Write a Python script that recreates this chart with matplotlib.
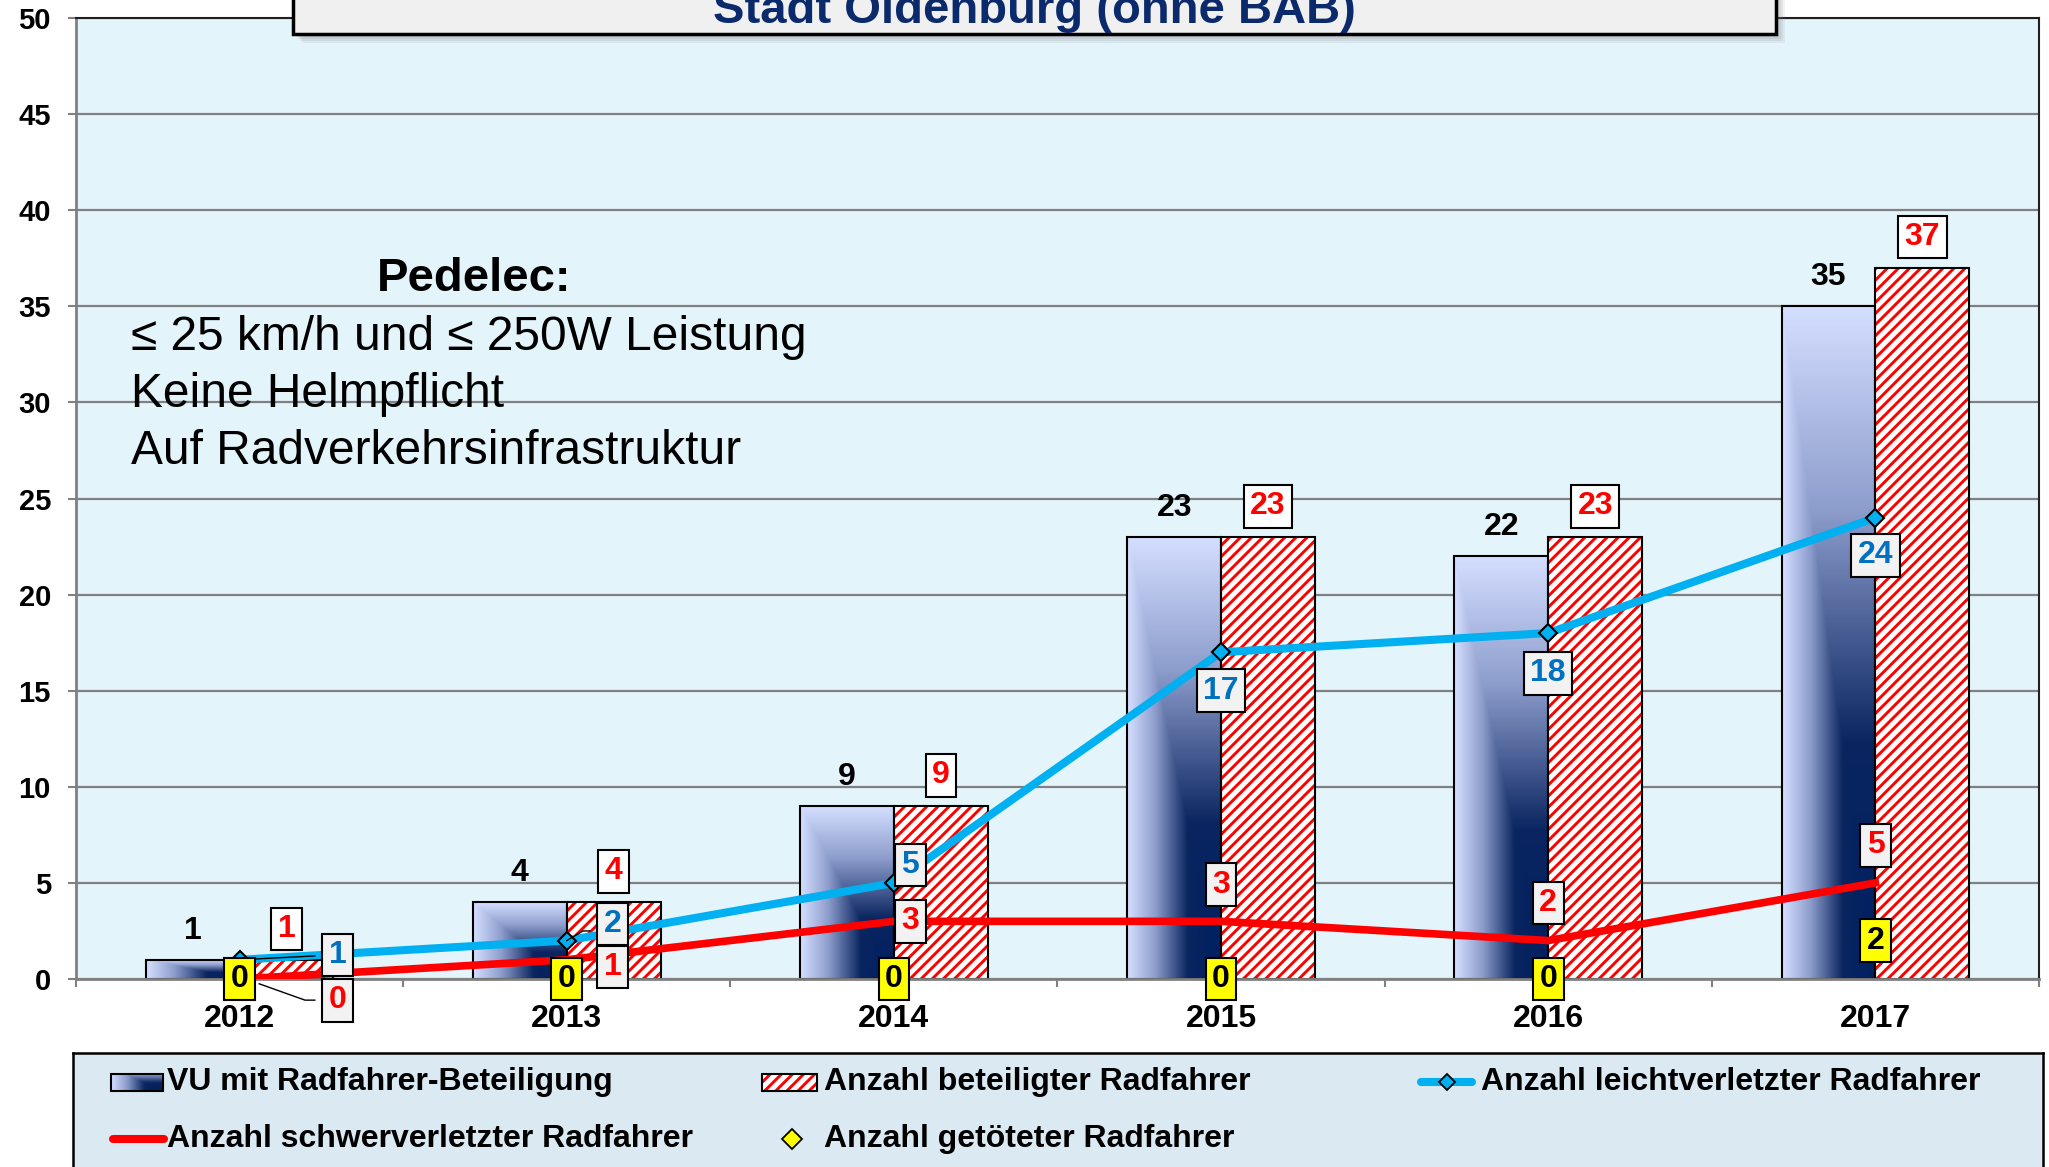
import numpy as np
import matplotlib.pyplot as plt
from matplotlib.colors import LinearSegmentedColormap
from matplotlib.patches import Rectangle

plt.rcParams['font.family'] = ['Liberation Sans', 'DejaVu Sans']
plt.rcParams['hatch.linewidth'] = 2.1

# Daten
years = ['2012', '2013', '2014', '2015', '2016', '2017']
vu_radfahrer = [1, 4, 9, 23, 22, 35]
beteiligte = [1, 4, 9, 23, 23, 37]
leichtverletzte = [1, 2, 5, 17, 18, 24]
schwerverletzte = [0, 1, 3, 3, 2, 5]
getoetete = [0, 0, 0, 0, 0, 2]

# Lage der Beschriftungen (dx, dy) relativ zum Punkt
off_leicht = [(0.30, 0.25), (0.14, 0.86), (0.05, 0.93), (0, -2.0), (0, -2.1), (0, -1.95)]
off_schwer = [(0.30, -1.1), (0.14, -0.38), (0.05, 0.0), (0, 1.9), (0, 1.95), (0, 1.95)]

W, H = 2049, 1167
fig = plt.figure(figsize=(W / 100, H / 100), dpi=100)
ax = fig.add_axes([76 / W, 1 - 979 / H, (2039 - 76) / W, (979 - 18) / H])
ax.set_facecolor('#e3f4fb')

x = np.arange(len(years))
bw = 0.287

navy = LinearSegmentedColormap.from_list(
    'navy', [(0, '#d4deff'), (0.3, '#8d9dcc'), (0.65, '#0a2560'), (1, '#002060')])

u = np.linspace(0, 1, 80)[None, :]
v = np.linspace(0, 1, 300)[:, None]
grad = np.minimum(u, v)

# Balken VU (Verlauf)
for xi, h in zip(x, vu_radfahrer):
    ax.imshow(grad, cmap=navy, extent=(xi - bw, xi, 0, h), aspect='auto',
              origin='upper', zorder=2, interpolation='bilinear')
ax.bar(x - bw / 2, vu_radfahrer, bw, fill=False, edgecolor='black', linewidth=1.5, zorder=2.1)

# Balken beteiligte Radfahrer (schraffiert)
ax.bar(x + bw / 2, beteiligte, bw, color='white', edgecolor='#ff0000', hatch='///',
       linewidth=0, zorder=2)
ax.bar(x + bw / 2, beteiligte, bw, fill=False, edgecolor='black', linewidth=1.5, zorder=2.1)

# Linien
ax.plot(x, schwerverletzte, color='#ff0000', lw=5.5, zorder=3)
ax.plot(x, leichtverletzte, color='#00b0f0', lw=5.8, marker='D', ms=9,
        mfc='#00b0f0', mec='black', mew=1.5, zorder=3.1)
ax.plot(x, getoetete, ls='none', marker='D', ms=10, mfc='#ffff00', mec='black', zorder=3.2)

# Hinweislinien
ax.plot([0, 0.23], [1.0, 1.2], color='black', lw=1, zorder=4)
ax.plot([0.06, 0.2, 0.23], [-0.25, -1.1, -1.1], color='black', lw=1, zorder=4, clip_on=False)
ax.plot([1, 1.05, 1.07], [2, 2.5, 2.5], color='black', lw=1, zorder=4)
ax.plot([1.05, 1.07], [0.0, 0.0], color='black', lw=1, zorder=4)


def label(xp, yp, s, color, face=None):
    bbox = None
    if face is not None:
        bbox = dict(boxstyle='square,pad=0.2', fc=face, ec='black', lw=1.5)
    ax.text(xp, yp, s, color=color, ha='center', va='center', fontsize=23,
            fontweight='bold', bbox=bbox, zorder=6, clip_on=False)


for i in range(len(years)):
    label(x[i] - bw / 2, vu_radfahrer[i] + 1.5, str(vu_radfahrer[i]), 'black')
    label(x[i] + bw / 2, beteiligte[i] + 1.6, str(beteiligte[i]), '#ff0000', 'white')
    dx, dy = off_leicht[i]
    label(x[i] + dx, leichtverletzte[i] + dy, str(leichtverletzte[i]), '#0070c0', '#f2f2f2')
    dx, dy = off_schwer[i]
    label(x[i] + dx, schwerverletzte[i] + dy, str(schwerverletzte[i]), '#ff0000', '#f2f2f2')
    label(x[i], getoetete[i], str(getoetete[i]), 'black', '#ffff00')

# Textblock
ax.text(0.2026, 0.728, 'Pedelec:', transform=ax.transAxes, ha='center', va='center',
        fontsize=34, fontweight='bold', zorder=6)
zeilen = ['≤ 25 km/h und ≤ 250W Leistung', 'Keine Helmpflicht', 'Auf Radverkehrsinfrastruktur']
for yy, s in zip([0.668, 0.608, 0.5485], zeilen):
    ax.text(0.0279, yy, s, transform=ax.transAxes, ha='left', va='center', fontsize=34.5, zorder=6)

# Achsen
ax.set_xlim(-0.5, 5.5)
ax.set_ylim(0, 50)
ax.set_yticks(np.arange(0, 51, 5))
ax.set_xticks(x)
ax.set_xticklabels(years)
ax.set_xticks(np.arange(-0.5, 6, 1), minor=True)
ax.tick_params(axis='x', which='major', length=0, pad=18, labelsize=23)
ax.tick_params(axis='x', which='minor', length=6, width=1.5, color='#808080')
ax.tick_params(axis='y', length=6, width=1.5, color='#808080', pad=12, labelsize=21)
for t in ax.get_xticklabels() + ax.get_yticklabels():
    t.set_fontweight('bold')
ax.grid(axis='y', color='#808080', lw=1.6)
ax.set_axisbelow(True)
for s in ['left', 'bottom']:
    ax.spines[s].set_color('#808080')
    ax.spines[s].set_linewidth(2)
for s in ['top', 'right']:
    ax.spines[s].set_color('#202020')
    ax.spines[s].set_linewidth(1.5)

# Titelkasten (oben abgeschnitten)
for k, a in enumerate([0.12, 0.12, 0.12, 0.1]):
    off = 3 + 2 * k
    fig.add_artist(Rectangle(((293 + off) / W, 1 - (34 + off) / H), (1776 - 293) / W, 60 / H,
                             transform=fig.transFigure, fc='gray', ec='none', alpha=a))
fig.add_artist(Rectangle((293 / W, 1 - 34 / H), (1776 - 293) / W, 60 / H,
                         transform=fig.transFigure, fc='#f0f0f0', ec='black', lw=2.5))
fig.text(1034.5 / W, 1 - 23 / H, 'Stadt Oldenburg (ohne BAB)', ha='center', va='baseline',
         fontsize=34, fontweight='bold', color='#0b2a6b', zorder=5)

# Legende
lax = fig.add_axes([73 / W, 0, (2043 - 73) / W, (1167 - 1053) / H])
lax.set_facecolor('#dbeaf2')
lax.set_xticks([])
lax.set_yticks([])
lax.spines['bottom'].set_visible(False)
for s in ['top', 'left', 'right']:
    lax.spines[s].set_linewidth(1.8)

lgrad = np.minimum(np.linspace(0, 1, 60)[None, :], np.linspace(0.3, 1, 20)[:, None])
lax.imshow(lgrad, cmap=navy, extent=(111, 163, 1091, 1074), aspect='auto', origin='upper',
           interpolation='bilinear')
lax.add_patch(Rectangle((111, 1074), 52, 17, fill=False, ec='black', lw=1.5))
lax.add_patch(Rectangle((762, 1074), 55, 17, fc='white', ec='#ff0000', hatch='///', lw=0))
lax.add_patch(Rectangle((762, 1074), 55, 17, fill=False, ec='black', lw=1.5))
lax.plot([1421, 1472], [1082, 1082], color='#00b0f0', lw=5.8, solid_capstyle='round')
lax.plot([1447], [1082], ls='none', marker='D', ms=8, mfc='#00b0f0', mec='black', mew=1.3)
lax.plot([113, 164], [1139, 1139], color='#ff0000', lw=5.8, solid_capstyle='round')
lax.plot([792], [1139], ls='none', marker='D', ms=10, mfc='#ffff00', mec='black', mew=1.3)

leg_text = [(167, 1082, 'VU mit Radfahrer-Beteiligung'),
            (824, 1082, 'Anzahl beteiligter Radfahrer'),
            (1481, 1082, 'Anzahl leichtverletzter Radfahrer'),
            (167, 1139, 'Anzahl schwerverletzter Radfahrer'),
            (824, 1139, 'Anzahl getöteter Radfahrer')]
for tx, ty, s in leg_text:
    lax.text(tx, ty, s, ha='left', va='center', fontsize=23, fontweight='bold')
lax.set_xlim(73, 2043)
lax.set_ylim(1167, 1053)

fig.savefig('out.png', dpi=100)
